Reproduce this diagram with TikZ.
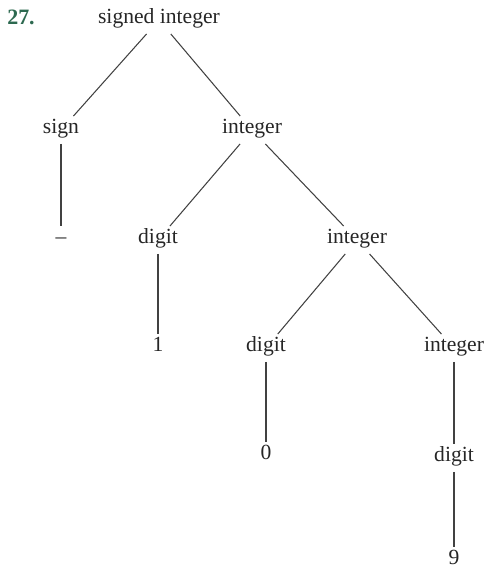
\documentclass[tikz,border=0pt]{standalone}
\usepackage{fontspec}
\setmainfont{Liberation Serif}
\usepackage{tikz}
\usepackage{xcolor}
\definecolor{numgreen}{RGB}{45,105,80}
\definecolor{treegray}{RGB}{65,65,65}

\begin{document}
\begin{tikzpicture}[x=0.02cm,y=-0.02cm,
  every node/.style={font=\fontsize{12.3}{14}\selectfont, text=black!85,
    text height=0.7em, text depth=0.25em, inner sep=3pt},
  branch/.style={draw=treegray, line width=0.6pt}]
\useasboundingbox (0,0) rectangle (485,571);
% exercise number
\node[font=\fontsize{12.5}{14}\selectfont\bfseries, text=numgreen] (num) at (21,21) {27.};
% level 0
\node (root) at (159,20) {signed integer};
% level 1
\node (sign) at (61,130) {sign};
\node (intA) at (252,130) {integer};
% level 2
\node (minus) at (61,240) {\textendash};
\node (digA) at (158,240) {digit};
\node (intB) at (357,240) {integer};
% level 3
\node (one) at (158,348) {1};
\node (digB) at (266,348) {digit};
\node (intC) at (454,348) {integer};
% level 4
\node (zero) at (266,456) {0};
\node (digC) at (454,458) {digit};
% level 5
\node (nine) at (454,561) {9};
% branches
\draw[branch] (root) -- (sign);
\draw[branch] (root) -- (intA);
\draw[branch] (sign) -- (minus);
\draw[branch] (intA) -- (digA);
\draw[branch] (intA) -- (intB);
\draw[branch] (digA) -- (one);
\draw[branch] (intB) -- (digB);
\draw[branch] (intB) -- (intC);
\draw[branch] (digB) -- (zero);
\draw[branch] (intC) -- (digC);
\draw[branch] (digC) -- (nine);
\end{tikzpicture}
\end{document}
